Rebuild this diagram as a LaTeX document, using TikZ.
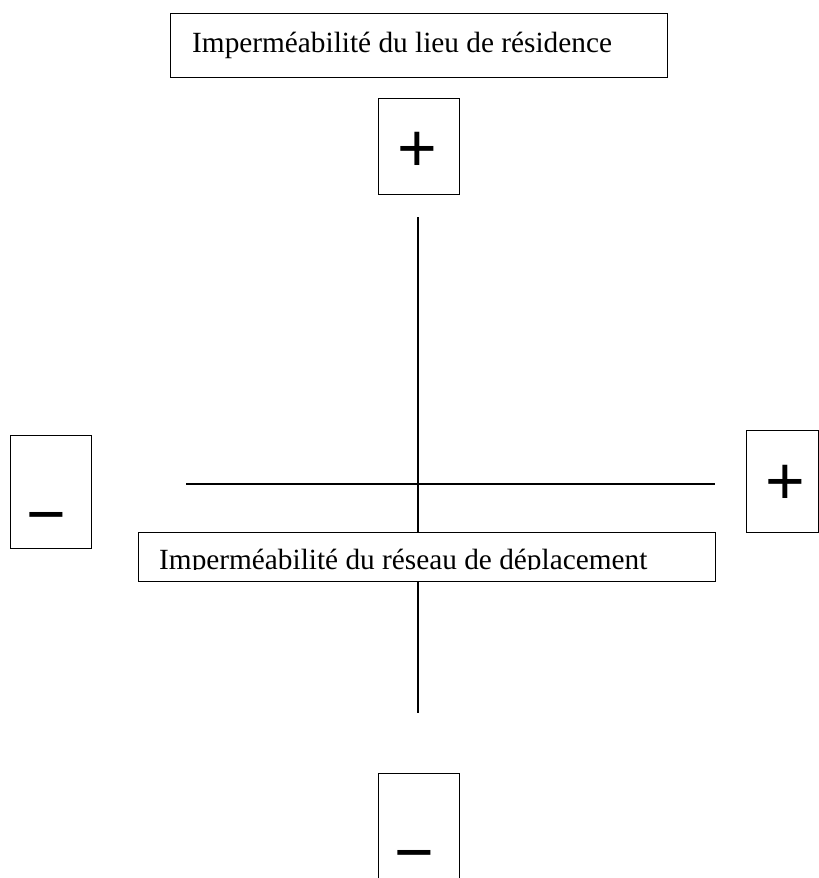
\documentclass[tikz,border=0pt]{standalone}
\usepackage{fontspec}
\setmainfont{Liberation Serif}
\newfontfamily\signfont{Liberation Sans}
\begin{document}
\begin{tikzpicture}[x=1pt,y=-1pt,
  frame/.style={draw=black, line width=1.3pt, fill=white, rectangle, inner sep=0pt, anchor=north west},
  axis/.style={draw=black, line width=1.3pt},
  label/.style={inner sep=0pt, anchor=base west, font=\fontsize{29.3}{32}\selectfont},
  sign/.style={inner sep=0pt, anchor=center, font=\signfont\fontsize{68}{68}\selectfont},
  minussign/.style={inner sep=0pt, anchor=base, text height=0.35em, text depth=0pt, font=\signfont\fontsize{68}{68}\selectfont}]
\useasboundingbox[fill=white] (0,0) rectangle (819,878);
% axes
\coordinate (vtop) at (418,217);
\coordinate (vbot) at (418,713);
\coordinate (hleft) at (186,484);
\coordinate (hright) at (715,484);
\draw[axis] (vtop) -- (vbot);
\draw[axis] (hleft) -- (hright);
% top title box
\node[frame, minimum width=497pt, minimum height=64pt] (topbox) at (170,13) {};
\node[label] (toptext) at (192,52) {Imperméabilité du lieu de résidence};
% bottom title box (text clipped at the bottom)
\node[frame, minimum width=577pt, minimum height=49pt] (botbox) at (138,532) {};
\begin{scope}
\clip (138,532) rectangle (715,569.5);
\node[label] (bottext) at (159,569) {Imperméabilité du réseau de déplacement};
\end{scope}
\node[draw=black, line width=1.3pt, rectangle, inner sep=0pt, anchor=north west, minimum width=577pt, minimum height=49pt] (botframe) at (138,532) {};
% sign boxes
\node[frame, minimum width=81pt, minimum height=96pt] (plustopbox) at (378,98) {};
\node[sign] (plustop) at (417,152) {+};
\node[frame, minimum width=81pt, minimum height=113pt] (minusleftbox) at (10,435) {};
\node[minussign] (minusleft) at (46.5,537.6) {−};
\node[frame, minimum width=72pt, minimum height=102pt] (plusrightbox) at (746,430) {};
\node[sign] (plusright) at (785,485) {+};
\node[frame, minimum width=81pt, minimum height=120pt] (minusbotbox) at (378,773) {};
\node[minussign] (minusbot) at (414.5,875.6) {−};
\end{tikzpicture}
\end{document}
